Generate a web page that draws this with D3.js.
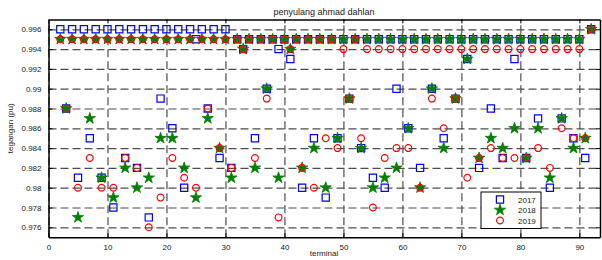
<!DOCTYPE html>
<html>
<head>
<meta charset="utf-8">
<script src="https://cdn.jsdelivr.net/npm/d3@7"></script>
<style>
  body { margin: 0; background: #fff; }
  svg text { font-family: "Liberation Sans", Arial, sans-serif; }
</style>
</head>
<body>
<div class="chart"></div>
<script>
// terminal numbers along the x axis
const terminals = [2,3,4,5,6,7,8,9,10,11,12,13,14,15,16,17,18,19,20,21,22,23,24,25,26,27,28,29,30,
  31,32,33,34,35,36,37,38,39,40,41,42,43,44,45,46,47,48,49,50,51,52,53,54,55,56,57,58,59,60,
  61,62,63,64,65,66,67,68,69,70,71,72,73,74,75,76,77,78,79,80,81,82,83,84,85,86,87,88,89,90,91,92];

const v2017 = [.996,.988,.996,.981,.996,.985,.996,.981,.996,.978,.996,.983,.996,.982,.996,.977,.996,.989,.996,.986,
  .996,.980,.996,.995,.996,.988,.996,.983,.996,.982,.995,.994,.995,.985,.995,.990,.995,.994,.995,.993,
  .995,.980,.995,.985,.995,.979,.995,.985,.995,.989,.995,.984,.995,.981,.995,.980,.995,.990,.995,.986,
  .995,.982,.995,.990,.995,.985,.995,.989,.995,.993,.995,.982,.995,.988,.995,.983,.995,.993,.995,.983,
  .995,.987,.995,.980,.995,.987,.995,.985,.995,.983,.996];

const v2018 = [.995,.988,.995,.977,.995,.987,.995,.981,.995,.979,.995,.982,.995,.980,.995,.981,.995,.985,.995,.985,
  .995,.982,.995,.979,.995,.987,.995,.984,.995,.981,.995,.994,.995,.982,.995,.990,.995,.981,.995,.994,
  .995,.982,.995,.984,.995,.980,.995,.985,.995,.989,.995,.984,.995,.980,.995,.981,.995,.982,.995,.986,
  .995,.980,.995,.990,.995,.984,.995,.989,.995,.993,.995,.983,.995,.985,.995,.984,.995,.986,.995,.983,
  .995,.986,.995,.981,.995,.987,.995,.984,.995,.985,.996];

const v2019 = [.995,.988,.995,.980,.995,.983,.995,.980,.995,.980,.995,.983,.995,.982,.995,.976,.995,.979,.995,.983,
  .995,.981,.995,.980,.995,.988,.995,.984,.995,.982,.995,.994,.995,.983,.995,.989,.995,.977,.995,.994,
  .995,.982,.995,.980,.995,.985,.995,.984,.994,.989,.995,.985,.994,.978,.994,.983,.994,.984,.994,.984,
  .994,.980,.994,.989,.994,.986,.994,.989,.994,.981,.994,.983,.994,.984,.994,.983,.994,.983,.994,.983,
  .994,.984,.994,.982,.994,.986,.994,.985,.994,.985,.996];

const xTicks = [0,10,20,30,40,50,60,70,80,90];
const yTicks = [0.976,0.978,0.98,0.982,0.984,0.986,0.988,0.99,0.992,0.994,0.996];

const seriesNames = ["2017", "2018", "2019"];
const seriesValues = [v2017, v2018, v2019];

const w = 602, h = 260;
const padLeft = 48.5, padRight = 600, padTop = 19.4, padBottom = 237.2;

const x = d3.scaleLinear().domain([0, 93.5]).range([padLeft, padRight]);
const y = d3.scaleLinear().domain([0.975, 0.997]).range([padBottom, padTop]);

const svg = d3.select(".chart").append("svg")
  .attr("width", w).attr("height", h);

/* dashed grid */
svg.append("g")
  .attr("transform", "translate(0," + padBottom + ")")
  .call(d3.axisBottom(x).tickValues(xTicks).tickSize(-(padBottom - padTop)).tickFormat(""))
  .call(g => g.select(".domain").remove())
  .selectAll("line").attr("stroke", "#4d4d4d").attr("stroke-width", 1.2).attr("stroke-dasharray", "8,4");

svg.append("g")
  .attr("transform", "translate(" + padLeft + ",0)")
  .call(d3.axisLeft(y).tickValues(yTicks).tickSize(-(padRight - padLeft)).tickFormat(""))
  .call(g => g.select(".domain").remove())
  .selectAll("line").attr("stroke", "#4d4d4d").attr("stroke-width", 1.2).attr("stroke-dasharray", "8,4");

/* markers */
const styles = [
  { type: d3.symbolSquare, size: 52, stroke: "#0000ff", fill: "none", sw: 1.2 },
  { type: d3.symbolStar, size: 40, stroke: "#008000", fill: "#008000", sw: 0.8 },
  { type: d3.symbolCircle, size: 36, stroke: "#ff0000", fill: "none", sw: 1.2 }
];

seriesValues.forEach((vals, i) => {
  const st = styles[i];
  svg.append("g").selectAll("path")
    .data(terminals.map((t, k) => [t, vals[k]]))
    .enter().append("path")
    .attr("d", d3.symbol().type(st.type).size(st.size))
    .attr("transform", d => "translate(" + x(d[0]) + "," + y(d[1]) + ")")
    .attr("fill", st.fill)
    .attr("stroke", st.stroke)
    .attr("stroke-width", st.sw);
});

/* axes with inward ticks */
svg.append("g")
  .attr("transform", "translate(0," + padBottom + ")")
  .call(d3.axisBottom(x).tickValues(xTicks).tickSizeInner(-4).tickSizeOuter(0).tickPadding(7));
svg.append("g")
  .attr("transform", "translate(" + padLeft + ",0)")
  .call(d3.axisLeft(y).tickValues(yTicks).tickSizeInner(-4).tickSizeOuter(0).tickPadding(7)
    .tickFormat(d => String(+d.toFixed(3))));
svg.append("g")
  .attr("transform", "translate(0," + padTop + ")")
  .call(d3.axisTop(x).tickValues(xTicks).tickSizeInner(-4).tickSizeOuter(0).tickFormat(""));
svg.append("g")
  .attr("transform", "translate(" + padRight + ",0)")
  .call(d3.axisRight(y).tickValues(yTicks).tickSizeInner(-4).tickSizeOuter(0).tickFormat(""));

svg.selectAll(".domain").attr("stroke", "#000").attr("stroke-width", 1.5);
svg.selectAll(".tick text").attr("font-size", 8).attr("fill", "#222");

/* title and labels */
svg.append("text").attr("x", 324).attr("y", 15).attr("text-anchor", "middle")
  .attr("font-size", 9).attr("fill", "#222").text("penyulang ahmad dahlan");
svg.append("text").attr("x", 324).attr("y", 256).attr("text-anchor", "middle")
  .attr("font-size", 8).attr("fill", "#222").text("terminal");
svg.append("text").attr("transform", "translate(13," + ((padTop + padBottom) / 2) + ") rotate(-90)")
  .attr("text-anchor", "middle").attr("font-size", 8).attr("fill", "#222").text("tegangan (pu)");

/* legend */
const lg = svg.append("g").attr("transform", "translate(481,192)");
lg.append("rect").attr("width", 60).attr("height", 36.5)
  .attr("fill", "#fff").attr("stroke", "#000").attr("stroke-width", 1);
seriesNames.forEach((name, i) => {
  const st = styles[i];
  const yy = 7.5 + i * 10.5;
  lg.append("path").attr("d", d3.symbol().type(st.type).size(st.size))
    .attr("transform", "translate(19," + yy + ")")
    .attr("fill", st.fill).attr("stroke", st.stroke).attr("stroke-width", st.sw);
  lg.append("text").attr("x", 37).attr("y", yy + 3).attr("font-size", 8)
    .attr("fill", "#222").text(name);
});
</script>
</body>
</html>
